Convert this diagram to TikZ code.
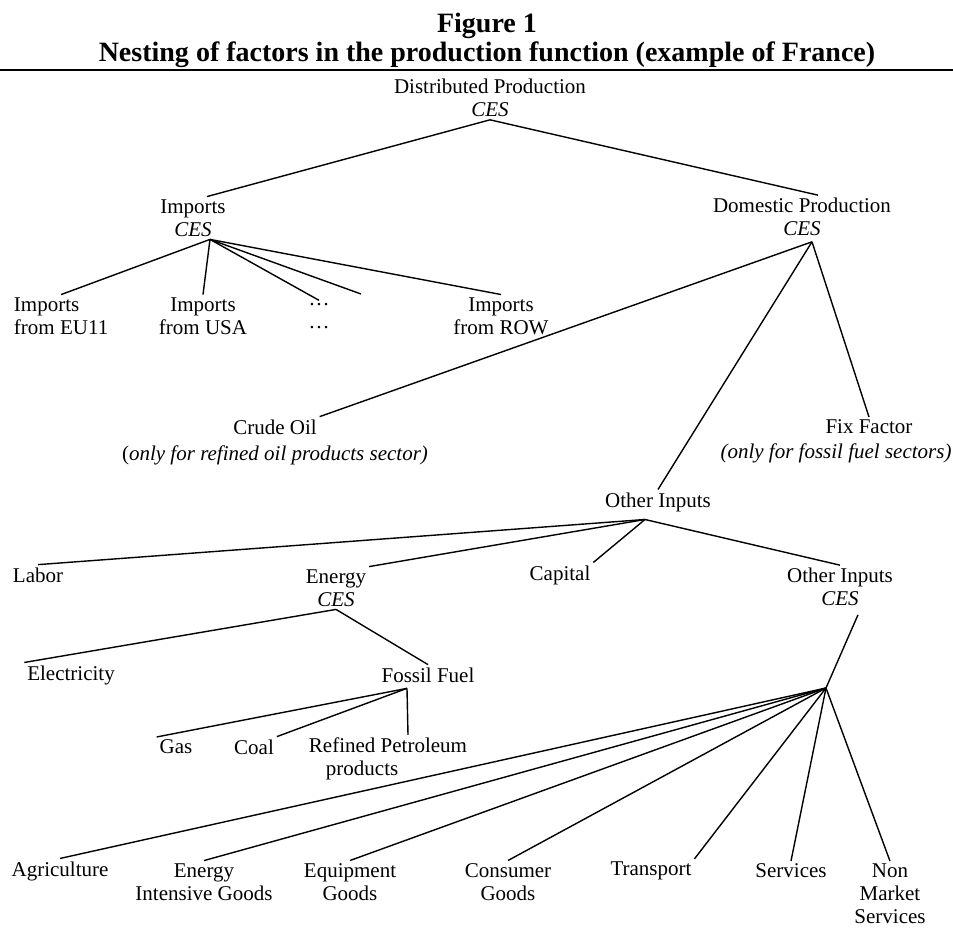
\documentclass[tikz,border=0pt]{standalone}
\usepackage{fontspec}
\setmainfont{Liberation Serif}
\usetikzlibrary{positioning, calc}

\begin{document}
\begin{tikzpicture}[x=0.5714pt, y=-0.5714pt,
  font=\fontsize{12}{13.1}\selectfont,
  lbl/.style={inner sep=1.5pt, align=center},
  link/.style={line width=0.8pt},
  ttl/.style={align=center, inner sep=0pt, font=\fontsize{16}{16.6}\selectfont\bfseries}
]
  \useasboundingbox (0,0) rectangle (953,930);
  \node[ttl] (title) at (487,40) {Figure 1\\Nesting of factors in the production function (example of France)};
  \draw[line width=1.2pt] (0,70) -- (953,70);

  % top of the nest
  \node[lbl] (dist) at (490,98) {Distributed Production\\\textit{CES}};
  \node[lbl] (imp) at (193,218) {Imports\\\textit{CES}};
  \node[lbl] (dom) at (802,217) {Domestic Production\\\textit{CES}};

  % imports by origin
  \node[lbl, anchor=west, align=left] (eu) at (11,316) {Imports\\from EU11};
  \node[lbl] (usa) at (203,316) {Imports\\from USA};
  \node[lbl] (dots) at (319,316) {…\\…};
  \node[lbl] (row) at (501,316) {Imports\\from ROW};
  \coordinate (dotsend) at (361,294);

  % domestic production
  \node[lbl] (crude) at (275,427) {Crude Oil};
  \node[lbl, below=3pt of crude] (crudenote) {(\textit{only for refined oil products sector)}};
  \node[lbl] (fix) at (869,427) {Fix Factor};
  \node[lbl] (fixnote) at (836,453) {\textit{(only for fossil fuel sectors)}};
  \node[lbl] (other) at (658,502) {Other Inputs};

  % other inputs
  \node[lbl] (labor) at (38,575) {Labor};
  \node[lbl] (energy) at (336,588) {Energy\\\textit{CES}};
  \node[lbl] (capital) at (560,575) {Capital};
  \node[lbl] (otherces) at (840,587) {Other Inputs\\\textit{CES}};

  % energy
  \node[lbl] (elec) at (71,675) {Electricity};
  \node[lbl] (fossil) at (428,675) {Fossil Fuel};
  \node[lbl] (gas) at (176,747) {Gas};
  \node[lbl] (coal) at (254,747) {Coal};
  \node[lbl, anchor=west, align=left] (refined) at (306,759) {Refined Petroleum\\\hspace*{9.7pt}products};

  % sectors
  \node[lbl] (agri) at (60,871) {Agriculture};
  \node[lbl] (eig) at (204,882) {Energy\\Intensive Goods};
  \node[lbl] (equip) at (350,882) {Equipment\\Goods};
  \node[lbl] (cons) at (508,882) {Consumer\\Goods};
  \node[lbl] (trans) at (651,871) {Transport};
  \node[lbl] (serv) at (791,871) {Services};
  \node[lbl] (nonmkt) at (890,894) {Non\\Market\\Services};

  % junctions
  \coordinate (impJ) at ($(imp.south)+(17,0)$);
  \coordinate (domJ) at ($(dom.south)+(10,3)$);
  \coordinate (otherJ) at ($(other.south)+(-13,5)$);
  \coordinate (fossilJ) at ($(fossil.south)+(-21,3)$);
  \coordinate (hub) at (826,688);

  \draw[link] (dist.south) -- ($(imp.north)+(14,0)$);
  \draw[link] (dist.south) -- ($(dom.north)+(16,0)$);

  \draw[link] (impJ) -- (eu.north);
  \draw[link] (impJ) -- (usa.north);
  \draw[link] (impJ) -- (dots.north);
  \draw[link] (impJ) -- (dotsend);
  \draw[link] (impJ) -- (row.north);

  \draw[link] (domJ) -- (crude.north east);
  \draw[link] (domJ) -- (other.north);
  \draw[link] (domJ) -- (fix.north);

  \draw[link] (otherJ) -- (labor.north);
  \draw[link] (otherJ) -- (energy.north east);
  \draw[link] (otherJ) -- (capital.north east);
  \draw[link] (otherJ) -- (otherces.north);

  \draw[link] (energy.south) -- (elec.north west);
  \draw[link] (energy.south) -- (fossil.north);
  \draw[link] (fossilJ) -- (gas.north west);
  \draw[link] (fossilJ) -- (coal.north east);
  \draw[link] (fossilJ) -- ($(refined.north)+(20,0)$);

  \draw[link] ($(otherces.south)+(18,6)$) -- (hub);
  \foreach \c in {agri, eig, equip, cons, serv, nonmkt}
    \draw[link] (hub) -- (\c.north);
  \draw[link] (hub) -- (trans.north east);
\end{tikzpicture}
\end{document}
